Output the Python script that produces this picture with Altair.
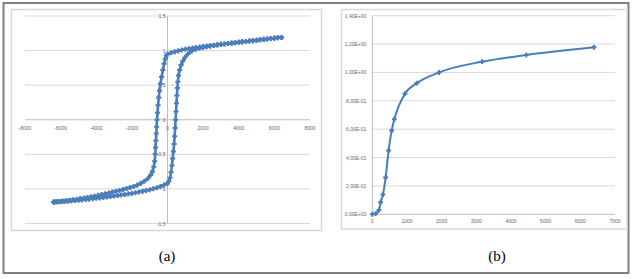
import altair as alt
import pandas as pd

# ---- (a) hysteresis loop: M vs H ----
# descending branch (from positive saturation to negative saturation)
h_desc = [6400, 6200, 6000, 5800, 5600, 5400, 5200, 5000, 4800, 4600,
          4400, 4200, 4000, 3800, 3600, 3400, 3200, 3000, 2800, 2600,
          2400, 2200, 2000, 1800, 1600, 1400, 1200, 1000, 800, 600,
          400, 200, 0, -60, -120, -190, -260, -330, -400, -450,
          -490, -530, -560, -590, -610, -630, -650, -670, -690, -720,
          -770, -850, -950, -1100, -1300, -1500, -1700, -1900, -2100, -2300,
          -2500, -2700, -2900, -3100, -3300, -3500, -3700, -3900, -4100, -4300,
          -4500, -4700, -4900, -5100, -5300, -5500, -5700, -5900, -6100, -6300,
          -6400]
m_desc = [1.19, 1.185, 1.18, 1.174, 1.168, 1.162, 1.156, 1.15, 1.144, 1.138,
          1.132, 1.126, 1.12, 1.114, 1.108, 1.102, 1.096, 1.09, 1.084, 1.078,
          1.072, 1.066, 1.06, 1.052, 1.044, 1.036, 1.028, 1.02, 1.008, 0.996,
          0.982, 0.968, 0.95, 0.93, 0.88, 0.81, 0.72, 0.62, 0.52, 0.42,
          0.32, 0.21, 0.10, 0.0, -0.10, -0.20, -0.30, -0.40, -0.50, -0.60,
          -0.68, -0.75, -0.80, -0.85, -0.89, -0.92, -0.945, -0.965, -0.98, -0.995,
          -1.01, -1.022, -1.034, -1.046, -1.058, -1.07, -1.082, -1.094, -1.105, -1.115,
          -1.125, -1.133, -1.141, -1.149, -1.157, -1.164, -1.17, -1.176, -1.182, -1.187,
          -1.19]
# ascending branch (from negative saturation back to positive saturation)
h_asc = [-6400, -6200, -6000, -5800, -5600, -5400, -5200, -5000, -4800, -4600,
         -4400, -4200, -4000, -3800, -3600, -3400, -3200, -3000, -2800, -2600,
         -2400, -2200, -2000, -1800, -1600, -1400, -1200, -1000, -800, -600,
         -400, -200, 0, 80, 140, 200, 250, 290, 330, 370,
         400, 430, 455, 480, 505, 530, 555, 580, 620, 680,
         760, 860, 980, 1150, 1350, 1600, 1800, 2000, 2200, 2400,
         2600, 2800, 3000, 3200, 3400, 3600, 3800, 4000, 4200, 4400,
         4600, 4800, 5000, 5200, 5400, 5600, 5800, 6000, 6200, 6400]
m_asc = [-1.19, -1.188, -1.185, -1.181, -1.177, -1.173, -1.168, -1.163, -1.158, -1.153,
         -1.147, -1.141, -1.135, -1.129, -1.123, -1.116, -1.109, -1.102, -1.095, -1.088,
         -1.08, -1.072, -1.064, -1.055, -1.045, -1.035, -1.024, -1.012, -0.998, -0.983,
         -0.965, -0.945, -0.92, -0.89, -0.84, -0.76, -0.66, -0.56, -0.46, -0.35,
         -0.24, -0.12, 0.0, 0.12, 0.24, 0.35, 0.46, 0.55, 0.64, 0.72,
         0.79, 0.85, 0.90, 0.95, 0.99, 1.02, 1.035, 1.046, 1.056, 1.065,
         1.074, 1.082, 1.09, 1.096, 1.102, 1.108, 1.114, 1.12, 1.126, 1.132,
         1.138, 1.144, 1.15, 1.156, 1.162, 1.168, 1.174, 1.18, 1.185, 1.19]

a_xticks = [-8000, -6000, -4000, -2000, 0, 2000, 4000, 6000, 8000]
a_xlabels = ["-8000", "-6000", "-4000", "-2000", "0", "2000", "4000", "6000", "8000"]
a_yticks = [-1.5, -1.0, -0.5, 0.0, 0.5, 1.0, 1.5]
a_ylabels = ["-1,5", "-1", "-0,5", "0", "0,5", "1", "1,5"]

# ---- (b) initial magnetization curve ----
b_h = [0, 96, 192, 240, 308, 385, 471, 558, 635, 942, 1288, 1923, 3163, 4442, 6394]
b_m = [0.0, 0.005, 0.03, 0.085, 0.14, 0.26, 0.45, 0.59, 0.67, 0.85,
       0.925, 1.0, 1.076, 1.123, 1.177]

b_xticks = [0, 1000, 2000, 3000, 4000, 5000, 6000, 7000]
b_xlabels = ["0", "1000", "2000", "3000", "4000", "5000", "6000", "7000"]
b_yticks = [0.0, 0.2, 0.4, 0.6, 0.8, 1.0, 1.2, 1.4]
b_ylabels = ["0,00E+00", "2,00E-01", "4,00E-01", "6,00E-01",
             "8,00E-01", "1,00E+00", "1,20E+00", "1,40E+00"]

captions = ["(a)", "(b)"]

BLUE = "#4a7ebb"
GRID = "#d9d9d9"
AXIS = "#bcbcbc"
LABEL = "#666666"
FONT = "Liberation Sans"

# pixel placement of each panel's plot area on the shared canvas
xa = alt.Scale(domain=[-8000, 8000], range=[25, 310], nice=False, zero=False)
ya = alt.Scale(domain=[-1.5, 1.5], range=[223.5, 16], nice=False, zero=False)
xb = alt.Scale(domain=[0, 7000], range=[372.3, 615], nice=False, zero=False)
yb = alt.Scale(domain=[0, 1.4], range=[214.3, 15.7], nice=False, zero=False)

one = pd.DataFrame({"k": [0]})


def box(x0, x1, y0, y1, color, width):
    return alt.Chart(one).mark_rect(
        fillOpacity=0, stroke=color, strokeWidth=width
    ).encode(x=alt.value(x0), x2=alt.value(x1), y=alt.value(y0), y2=alt.value(y1))


def hlines(ticks, x0, x1, xs, ys, color):
    df = pd.DataFrame({"v": ticks, "x0": x0, "x1": x1})
    return alt.Chart(df).mark_rule(color=color, strokeWidth=1).encode(
        x=alt.X("x0:Q", scale=xs, axis=None), x2="x1:Q",
        y=alt.Y("v:Q", scale=ys, axis=None))


def vline(x, y0, y1, xs, ys, color):
    df = pd.DataFrame({"x": [x], "y0": [y0], "y1": [y1]})
    return alt.Chart(df).mark_rule(color=color, strokeWidth=1).encode(
        x=alt.X("x:Q", scale=xs, axis=None),
        y=alt.Y("y0:Q", scale=ys, axis=None), y2="y1:Q")


def labels(xv, yv, texts, xs, ys, align, dx=0, dy=0):
    df = pd.DataFrame({"x": xv, "y": yv, "t": texts})
    return alt.Chart(df).mark_text(
        font=FONT, fontSize=5, color=LABEL, align=align, baseline="middle",
        dx=dx, dy=dy
    ).encode(x=alt.X("x:Q", scale=xs, axis=None),
             y=alt.Y("y:Q", scale=ys, axis=None), text="t:N")


# loop data
loop = pd.concat([
    pd.DataFrame({"H": h_desc, "M": m_desc, "branch": "desc",
                  "i": range(len(h_desc))}),
    pd.DataFrame({"H": h_asc, "M": m_asc, "branch": "asc",
                  "i": range(len(h_asc))}),
])
loop_line = alt.Chart(loop).mark_line(color=BLUE, strokeWidth=2.6).encode(
    x=alt.X("H:Q", scale=xa, axis=None), y=alt.Y("M:Q", scale=ya, axis=None),
    detail="branch:N", order="i:Q")
loop_pts = alt.Chart(loop).mark_point(
    shape="cross", filled=True, color=BLUE, size=26, opacity=1
).encode(x=alt.X("H:Q", scale=xa, axis=None), y=alt.Y("M:Q", scale=ya, axis=None))

curve = pd.DataFrame({"H": b_h, "M": b_m})
curve_line = alt.Chart(curve).mark_line(
    color=BLUE, strokeWidth=2, interpolate="monotone"
).encode(x=alt.X("H:Q", scale=xb, axis=None), y=alt.Y("M:Q", scale=yb, axis=None))
curve_pts = alt.Chart(curve).mark_point(
    shape="cross", filled=True, color=BLUE, size=24, opacity=1
).encode(x=alt.X("H:Q", scale=xb, axis=None), y=alt.Y("M:Q", scale=yb, axis=None))

cap = pd.DataFrame({"t": captions, "px": [167, 497]})
caption_text = alt.Chart(cap).mark_text(
    font="Liberation Serif", fontSize=15, color="#000000",
    align="center", baseline="middle"
).encode(x=alt.X("px:Q", scale=alt.Scale(domain=[0, 638], range=[0, 638]), axis=None),
         y=alt.value(256), text="t:N")

layers = [
    # outer frame and panel borders
    box(3.5, 628.5, 3, 273, "#808080", 2),
    box(11.5, 321.5, 9.5, 230.5, GRID, 1.5),
    box(341.5, 627, 9.5, 229, GRID, 1.5),
    # panel (a) grid, axes and tick labels
    hlines([v for v in a_yticks if v != 0], a_xticks[0], a_xticks[-1], xa, ya, GRID),
    hlines([0.0], a_xticks[0], a_xticks[-1], xa, ya, AXIS),
    vline(0, a_yticks[0], a_yticks[-1], xa, ya, AXIS),
    labels(a_xticks, [0.0] * len(a_xticks), a_xlabels, xa, ya, "center", dy=8),
    labels([0] * len(a_yticks), a_yticks, a_ylabels, xa, ya, "right", dx=-2),
    # panel (b) grid, axes and tick labels
    hlines([v for v in b_yticks if v != 0], b_xticks[0], b_xticks[-1], xb, yb, GRID),
    hlines([0.0], b_xticks[0], b_xticks[-1], xb, yb, AXIS),
    vline(0, b_yticks[0], b_yticks[-1], xb, yb, AXIS),
    labels(b_xticks, [0.0] * len(b_xticks), b_xlabels, xb, yb, "center", dy=7),
    labels([0] * len(b_yticks), b_yticks, b_ylabels, xb, yb, "right", dx=-6),
    # data
    loop_line, loop_pts,
    curve_line, curve_pts,
    caption_text,
]

chart = alt.layer(*layers).resolve_scale(
    x="independent", y="independent"
).properties(
    width=638, height=279, padding=0,
    autosize=alt.AutoSizeParams(type="none"),
    background="#ffffff",
).configure_view(stroke="transparent")

chart.save("out.html", embed_options={"renderer": "svg", "actions": False})
